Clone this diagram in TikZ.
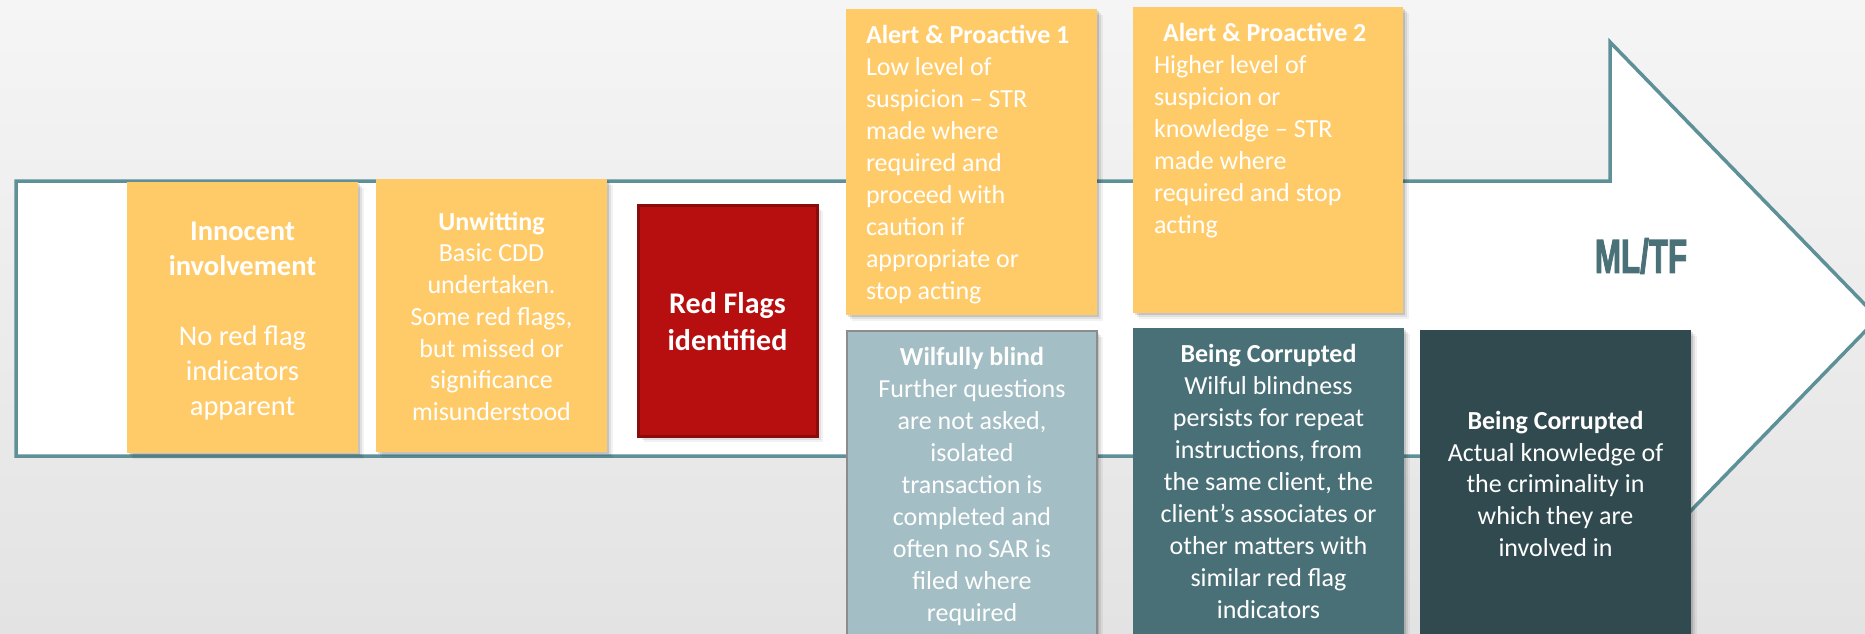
\documentclass[tikz,border=0pt]{standalone}
\usepackage{fontspec}
\setmainfont{Carlito}
\newfontfamily\headfont[BoldFeatures={FakeBold=2.5}]{Liberation Sans}
\usetikzlibrary{shadows}

\definecolor{bgtop}{HTML}{F5F5F5}
\definecolor{bgbot}{HTML}{E3E3E3}
\definecolor{arrowline}{HTML}{5E9098}
\definecolor{amber}{HTML}{FFCB69}
\definecolor{flagred}{HTML}{B70E10}
\definecolor{flagedge}{HTML}{8A0B0B}
\definecolor{mist}{HTML}{A3BEC4}
\definecolor{mistedge}{HTML}{8C8C8C}
\definecolor{slate}{HTML}{4A7077}
\definecolor{deepslate}{HTML}{314A4F}
\definecolor{tftext}{HTML}{4A7078}

\tikzset{
  card/.style={rectangle, inner sep=0pt, outer sep=0pt, anchor=north west,
    drop shadow={shadow xshift=2pt, shadow yshift=-2pt, opacity=.12, fill=black},
    drop shadow={shadow xshift=4pt, shadow yshift=-4pt, opacity=.08, fill=black},
    drop shadow={shadow xshift=6pt, shadow yshift=-6pt, opacity=.05, fill=black}},
  cardtext/.style={text=white, inner sep=0pt, outer sep=0pt, align=center, anchor=north,
    font=\fontsize{26}{32}\selectfont},
}

\begin{document}
\begin{tikzpicture}[x=1pt, y=-1pt]
  \useasboundingbox (0,0) rectangle (1865,634);
  \clip (0,0) rectangle (1865,634);

  % backdrop
  \shade[top color=bgtop, bottom color=bgbot] (0,0) rectangle (1865,634);

  % the big arrow
  \draw[arrowline, line width=3.5pt, fill=white, line join=miter]
    (16,181) -- (1610,181) -- (1610,42) -- (1878,318) -- (1610,594)
    -- (1610,456) -- (16,456) -- cycle;

  % stage cards
  \node[card, fill=amber, minimum width=231, minimum height=271] (innocent) at (127,182) {};
  \node[card, fill=amber, minimum width=231, minimum height=273] (unwitting) at (376,179) {};
  \node[card, fill=flagred, draw=flagedge, line width=3pt, minimum width=179, minimum height=231] (redflag) at (638,205) {};
  \node[card, fill=amber, minimum width=251, minimum height=306] (alertone) at (846,9) {};
  \node[card, fill=amber, minimum width=270, minimum height=306] (alerttwo) at (1133,7) {};
  \node[card, fill=mist, draw=mistedge, line width=2pt, minimum width=250, minimum height=320] (blind) at (847,331) {};
  \node[card, fill=slate, minimum width=271, minimum height=322] (corruptone) at (1133,328) {};
  \node[card, fill=deepslate, minimum width=271, minimum height=320] (corrupttwo) at (1420,330) {};

  % card texts
  \node[cardtext, font=\fontsize{28.5}{35}\selectfont] (innocenttxt) at (242.5,222)
    {\textbf{Innocent}\\\textbf{involvement}\\[35pt]No red flag\\indicators\\apparent};
  \node[cardtext, font=\fontsize{26}{31.7}\selectfont] (unwittingtxt) at (491.5,212)
    {\textbf{Unwitting}\\Basic CDD\\undertaken.\\Some red flags,\\but missed or\\significance\\misunderstood};
  \node[cardtext, font=\bfseries\fontsize{30}{37}\selectfont] (redflagtxt) at (727.5,292)
    {Red Flags\\identified};
  \node[cardtext, align=left, anchor=north west] (alertonetxt) at (866,25)
    {\textbf{Alert \& Proactive 1}\\Low level of\\suspicion – STR\\made where\\required and\\proceed with\\caution if\\appropriate or\\stop acting};
  \node[cardtext, align=left, anchor=north west] (alerttwotxt) at (1154,23)
    {\hspace*{9pt}\textbf{Alert \& Proactive 2}\\Higher level of\\suspicion or\\knowledge – STR\\made where\\required and stop\\acting};
  \node[cardtext] (blindtxt) at (972,347)
    {\textbf{Wilfully blind}\\Further questions\\are not asked,\\isolated\\transaction is\\completed and\\often no SAR is\\filed where\\required};
  \node[cardtext] (corruptonetxt) at (1268.5,344)
    {\textbf{Being Corrupted}\\Wilful blindness\\persists for repeat\\instructions, from\\the same client, the\\client’s associates or\\other matters with\\similar red flag\\indicators};
  \node[cardtext, font=\fontsize{26}{31.8}\selectfont] (corrupttwotxt) at (1555.5,411)
    {\textbf{Being Corrupted}\\Actual knowledge of\\the criminality in\\which they are\\involved in};

  % arrow label
  \node[text=tftext, inner sep=0pt, font=\headfont\bfseries\fontsize{47.5}{50}\selectfont] (mltf) at (1641,256)
    {\scalebox{0.66}[1]{ML/TF}};
\end{tikzpicture}
\end{document}
